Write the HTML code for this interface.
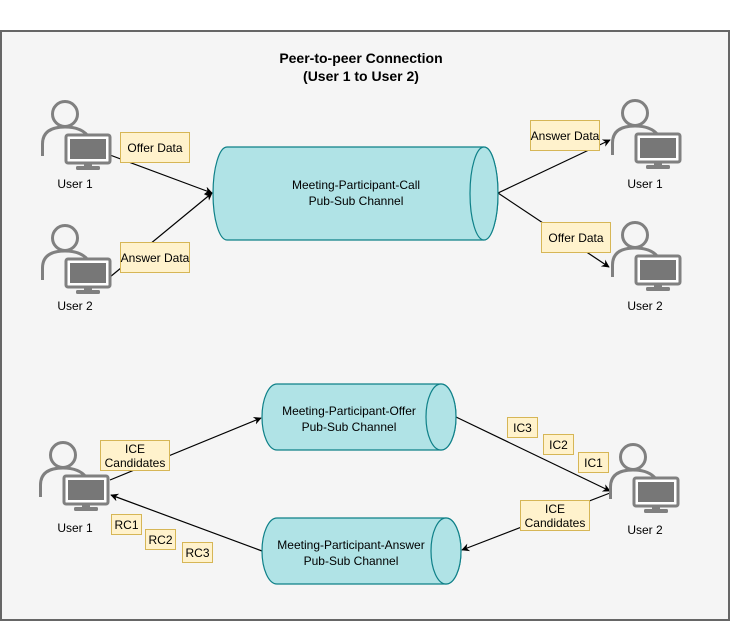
<!DOCTYPE html>
<html><head><meta charset="utf-8"><style>html,body{margin:0;padding:0;background:#fff}</style></head><body>
<svg width="731" height="621" viewBox="0 0 731 621" xmlns="http://www.w3.org/2000/svg" font-family="Liberation Sans, Arial, sans-serif">
<defs>
<marker id="a" viewBox="0 0 10 10" refX="9" refY="5" markerWidth="8" markerHeight="8" orient="auto" markerUnits="userSpaceOnUse"><path d="M0,0 L10,5 L0,10 L3,5 z" fill="#000"/></marker>
<g id="u">
<circle cx="24" cy="14" r="12.5" fill="#f5f5f5" stroke="#808080" stroke-width="3"/>
<path d="M1.5,56 L1.5,44 Q1.5,27 24,27 Q40,27 47,36" fill="#f5f5f5" stroke="#808080" stroke-width="3"/>
<rect x="25" y="35" width="44" height="28" rx="2" fill="#fff" stroke="#808080" stroke-width="3"/>
<rect x="29" y="39" width="36" height="20" fill="#777"/>
<rect x="43" y="63" width="8" height="4" fill="#808080"/>
<rect x="35" y="66" width="24" height="4" rx="1.5" fill="#808080"/>
</g>
</defs>
<rect x="1" y="31" width="728" height="589" fill="#f5f5f5" stroke="#666" stroke-width="2"/>
<text x="361" y="63" text-anchor="middle" font-size="14" font-weight="bold">Peer-to-peer Connection</text>
<text x="361" y="81" text-anchor="middle" font-size="14" font-weight="bold">(User 1 to User 2)</text>

<g stroke="#000" stroke-width="1.2" fill="none">
<line x1="110" y1="155" x2="212" y2="193" marker-end="url(#a)"/>
<line x1="110" y1="277" x2="212" y2="193" marker-end="url(#a)"/>
<line x1="498" y1="193" x2="610" y2="140" marker-end="url(#a)"/>
<line x1="498" y1="193" x2="609" y2="267" marker-end="url(#a)"/>
<line x1="110" y1="480" x2="261" y2="418" marker-end="url(#a)"/>
<line x1="456" y1="417" x2="610" y2="491" marker-end="url(#a)"/>
<line x1="610" y1="493" x2="462" y2="550" marker-end="url(#a)"/>
<line x1="262" y1="551" x2="111" y2="495" marker-end="url(#a)"/>
</g>

<g fill="#b0e3e6" stroke="#0e8088" stroke-width="1.2">
<path d="M227,147 L484,147 A14,46.5 0 0 1 484,240 L227,240 A14,46.5 0 0 1 227,147 z"/>
<ellipse cx="484" cy="193.5" rx="14" ry="46.5"/>
<path d="M277,384 L441,384 A15,33 0 0 1 441,450 L277,450 A15,33 0 0 1 277,384 z"/>
<ellipse cx="441" cy="417" rx="15" ry="33"/>
<path d="M277,518 L446,518 A15,33 0 0 1 446,584 L277,584 A15,33 0 0 1 277,518 z"/>
<ellipse cx="446" cy="551" rx="15" ry="33"/>
</g>
<g font-size="12" text-anchor="middle" fill="#000">
<text x="356" y="189">Meeting-Participant-Call</text>
<text x="356" y="205">Pub-Sub Channel</text>
<text x="349" y="415">Meeting-Participant-Offer</text>
<text x="349" y="431">Pub-Sub Channel</text>
<text x="351" y="549">Meeting-Participant-Answer</text>
<text x="351" y="565">Pub-Sub Channel</text>
</g>

<use href="#u" x="41" y="100"/>
<use href="#u" x="41" y="224"/>
<use href="#u" x="611" y="99"/>
<use href="#u" x="611" y="221"/>
<use href="#u" x="39" y="441"/>
<use href="#u" x="609" y="443"/>
<g font-size="12" text-anchor="middle" fill="#000">
<text x="75" y="188">User 1</text>
<text x="75" y="310">User 2</text>
<text x="645" y="188">User 1</text>
<text x="645" y="310">User 2</text>
<text x="75" y="532">User 1</text>
<text x="645" y="534">User 2</text>
</g>

<g fill="#fff2cc" stroke="#d6b656" stroke-width="1">
<rect x="120.5" y="132.5" width="69" height="30"/>
<rect x="120.5" y="242.5" width="69" height="30"/>
<rect x="530.5" y="120.5" width="69" height="30"/>
<rect x="541.5" y="222.5" width="69" height="30"/>
<rect x="100.5" y="440.5" width="69" height="30"/>
<rect x="520.5" y="500.5" width="69" height="30"/>
<rect x="111.5" y="514.5" width="30" height="20"/>
<rect x="145.5" y="529.5" width="30" height="20"/>
<rect x="182.5" y="542.5" width="30" height="20"/>
<rect x="507.5" y="417.5" width="30" height="20"/>
<rect x="543.5" y="434.5" width="30" height="20"/>
<rect x="578.5" y="452.5" width="30" height="20"/>
</g>
<g font-size="12" text-anchor="middle" fill="#000">
<text x="155" y="152">Offer Data</text>
<text x="155" y="262">Answer Data</text>
<text x="565" y="140">Answer Data</text>
<text x="576" y="242">Offer Data</text>
<text x="135" y="453">ICE</text>
<text x="135" y="467">Candidates</text>
<text x="555" y="513">ICE</text>
<text x="555" y="527">Candidates</text>
<text x="126.5" y="529">RC1</text>
<text x="160.5" y="544">RC2</text>
<text x="197.5" y="557">RC3</text>
<text x="522.5" y="432">IC3</text>
<text x="558.5" y="449">IC2</text>
<text x="593.5" y="467">IC1</text>
</g>
</svg>
</body></html>
